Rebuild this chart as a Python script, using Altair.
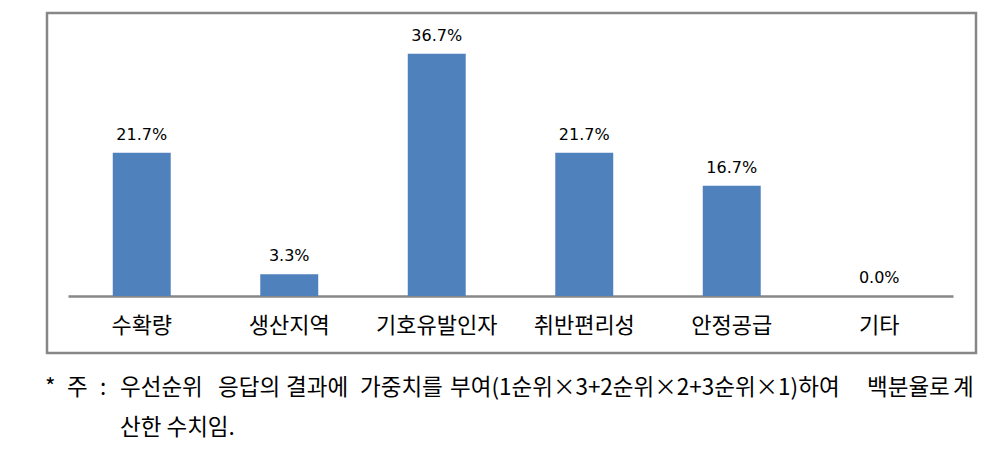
import altair as alt
import pandas as pd

categories = ["수확량", "생산지역", "기호유발인자", "취반편리성", "안정공급", "기타"]
values = [21.7, 3.3, 36.7, 21.7, 16.7, 0.0]

note_line1 = ["*", "주", ":", "우선순위", "응답의", "결과에", "가중치를",
              "부여(1순위×3+2순위×2+3순위×1)하여", "백분율로", "계"]
note_line2 = ["산한 수치임."]

# layout (pixel offsets relative to plot area origin)
LEFT, TOP = 68, 32
W, H = 885, 264
note1_x = [45, 67, 100, 120, 218, 286, 360, 450, 867, 953]
note2_x = [120]
note1_y, note2_y = 388, 428

KFONT = "Noto Sans CJK KR"
BAR = "#4F81BD"
GRAY = "#878787"

df = pd.DataFrame({"cat": categories, "val": values})

base = alt.Chart(df).encode(
    x=alt.X("cat:N", sort=categories,
            scale=alt.Scale(paddingInner=0.607, paddingOuter=0.3035),
            axis=alt.Axis(title=None, labelAngle=0, ticks=False, labelFont=KFONT,
                          labelFontSize=22, labelColor="#000000", labelPadding=19,
                          domainColor=GRAY, domainWidth=2.5, grid=False)),
    y=alt.Y("val:Q", scale=alt.Scale(domain=[0, 40], nice=False), axis=None),
)

bars = base.mark_bar(color=BAR)
labels = base.transform_calculate(
    lab="format(datum.val, '.1f') + '%'"
).mark_text(baseline="bottom", dy=-10, font="DejaVu Sans", fontSize=16,
            color="#000000").encode(text="lab:N")

frame = alt.Chart(pd.DataFrame({"k": [0]})).mark_rect(
    fill=None, stroke=GRAY, strokeWidth=2.5
).encode(x=alt.value(47 - LEFT), x2=alt.value(976 - LEFT),
         y=alt.value(13 - TOP), y2=alt.value(353 - TOP))

layers = [frame, bars, labels]
for seg, px in zip(note_line1, note1_x):
    layers.append(
        alt.Chart(pd.DataFrame({"t": [seg]})).mark_text(
            align="left", baseline="middle", font=KFONT, fontSize=22.5, color="#000000"
        ).encode(x=alt.value(px - LEFT), y=alt.value(note1_y - TOP), text="t:N")
    )
for seg, px in zip(note_line2, note2_x):
    layers.append(
        alt.Chart(pd.DataFrame({"t": [seg]})).mark_text(
            align="left", baseline="middle", font=KFONT, fontSize=22.5, color="#000000"
        ).encode(x=alt.value(px - LEFT), y=alt.value(note2_y - TOP), text="t:N")
    )

chart = alt.layer(*layers).properties(
    width=W, height=H,
    autosize=alt.AutoSizeParams(type="none"),
    padding={"left": LEFT, "top": TOP, "right": 994 - LEFT - W, "bottom": 460 - TOP - H},
    background="white",
).configure_view(stroke=None)

chart.save("out.html", embed_options={"renderer": "svg", "actions": False})
